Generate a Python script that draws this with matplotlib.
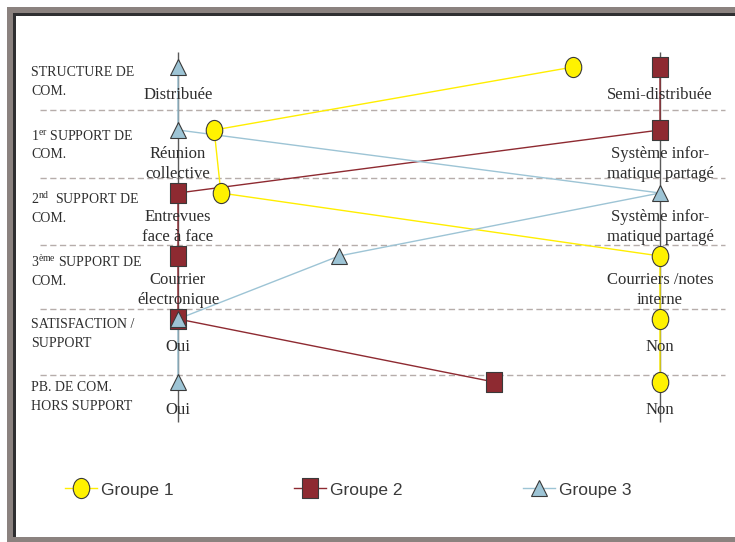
import numpy as np
import matplotlib
matplotlib.use("Agg")
import matplotlib.pyplot as plt
from matplotlib.path import Path
from matplotlib.transforms import Affine2D
from matplotlib.patches import Rectangle

plt.rcParams['mathtext.fontset'] = 'custom'
plt.rcParams['mathtext.rm'] = 'Liberation Serif'
plt.rcParams['mathtext.it'] = 'Liberation Serif:italic'

# -----------
# Chart data
# -----------
questions = ["STRUCTURE DE\nCOM.",
             r"1$^{\mathrm{er}}$ SUPPORT DE" + "\nCOM.",
             r"2$^{\mathrm{nd}}$  SUPPORT DE" + "\nCOM.",
             r"3$^{\mathrm{ème}}$ SUPPORT DE" + "\nCOM.",
             "SATISFACTION /\nSUPPORT",
             "PB. DE COM.\nHORS SUPPORT"]
left_answers = ["Distribuée", "Réunion\ncollective", "Entrevues\nface à face",
                "Courrier\nélectronique", "Oui", "Oui"]
right_answers = ["Semi-distribuée", "Système infor-\nmatique partagé",
                 "Système infor-\nmatique partagé", "Courriers /notes\ninterne",
                 "Non", "Non"]

rows = np.arange(len(questions))
# horizontal position of each group answer (0 = left answer, 1 = right answer)
groupe1 = [0.82, 0.075, 0.089, 1.0, 1.0, 1.0]
groupe2 = [1.0, 1.0, 0.0, 0.0, 0.0, 0.656]
groupe3 = [0.0, 0.0, 1.0, 0.334, 0.0, 0.0]

# ------
# Layout
# ------
W, H = 735, 542
x_left, x_right = 178, 660      # pixel columns of the two answer axes
y_top, row_h = 67, 63           # pixel row of first question, row spacing

fig = plt.figure(figsize=(W / 100, H / 100), dpi=100)
fig.patch.set_facecolor('white')

# background frame (pixel coordinates)
bg = fig.add_axes([0, 0, 1, 1])
bg.set_xlim(0, W)
bg.set_ylim(H, 0)
bg.axis('off')
gray, dark = '#8b827f', '#2f2f31'
bg.add_patch(Rectangle((7, 7), W, 6, color=gray, lw=0))
bg.add_patch(Rectangle((7, 7), 6, H, color=gray, lw=0))
bg.add_patch(Rectangle((7, 537), W, 6, color=gray, lw=0))
bg.add_patch(Rectangle((13, 13), W, 2.5, color=dark, lw=0))
bg.add_patch(Rectangle((13, 13), 3, 524, color=dark, lw=0))

ax = fig.add_axes([0, 0, 1, 1])
ax.patch.set_alpha(0)
span = x_right - x_left
ax.set_xlim(-x_left / span, (W - x_left) / span)
ax.set_ylim((H - y_top) / row_h, -y_top / row_h)
ax.axis('off')

# dashed separators between questions
sep_y = [0.68, 1.76, 2.83, 3.84, 4.89]
ax.hlines(sep_y, -0.286, 1.135, colors='#b6adaa', linewidth=1.0,
          linestyles=(0, (4.5, 2.5)), zorder=1)

# the two answer axes
ax.vlines([0, 1], -0.24, 5.63, colors='#5a5a5a', linewidth=1.0, zorder=1.5)

# markers
ellipse = Path.unit_circle().transformed(Affine2D().scale(0.82, 1.0))
rect = Path([(-0.42, -0.5), (0.42, -0.5), (0.42, 0.5), (-0.42, 0.5), (-0.42, -0.5)],
            [Path.MOVETO, Path.LINETO, Path.LINETO, Path.LINETO, Path.CLOSEPOLY])

series = [
    (groupe1, "Groupe 1", '#fff200', '#ffee00', ellipse, 14.5),
    (groupe2, "Groupe 2", '#8e2a31', '#8e2a31', rect, 14.5),
    (groupe3, "Groupe 3", '#9dc4d5', '#9dc4d5', '^', 11.5),
]
handles = []
for i, (xs, name, fc, lc, mk, ms) in enumerate(series):
    ax.plot(xs, rows, color=lc, linewidth=1.0, zorder=2)
    ax.plot(xs, rows, linestyle='none', marker=mk, markersize=ms,
            markerfacecolor=fc, markeredgecolor='#3a3a3a',
            markeredgewidth=0.8, zorder=3 + i)
    # legend handle: line + marker
    lh, = ax.plot([], [], color=lc, linewidth=1.0, marker=mk, markersize=ms,
                  markerfacecolor=fc, markeredgecolor='#3a3a3a',
                  markeredgewidth=0.8, label=name)
    handles.append(lh)

# texts
serif = 'Liberation Serif'
txt_col = '#2e2e2e'
for r, q in zip(rows, questions):
    ax.text((31 - x_left) / span, r + 0.24, q, family=serif, fontsize=10,
            color=txt_col, ha='left', va='center', linespacing=1.55, zorder=6)

for col, answers in [(0, left_answers), (1, right_answers)]:
    for r, a in zip(rows, answers):
        off = 0.44 if '\n' not in a else 0.54
        ax.text(col, r + off, a, family=serif, fontsize=12, color=txt_col,
                ha='center', va='center', linespacing=1.35, zorder=6)

# legend
leg = ax.legend(handles=handles, loc='center left', ncol=3, frameon=False,
                bbox_to_anchor=(65 / W, 1 - 490 / H), bbox_transform=fig.transFigure,
                prop={'family': 'Liberation Sans', 'size': 12.5},
                handlelength=1.84, handletextpad=0.26, columnspacing=6.9,
                borderpad=0, borderaxespad=0, labelcolor='#3a3a3a')

fig.savefig('out.png', dpi=100, facecolor='white')
